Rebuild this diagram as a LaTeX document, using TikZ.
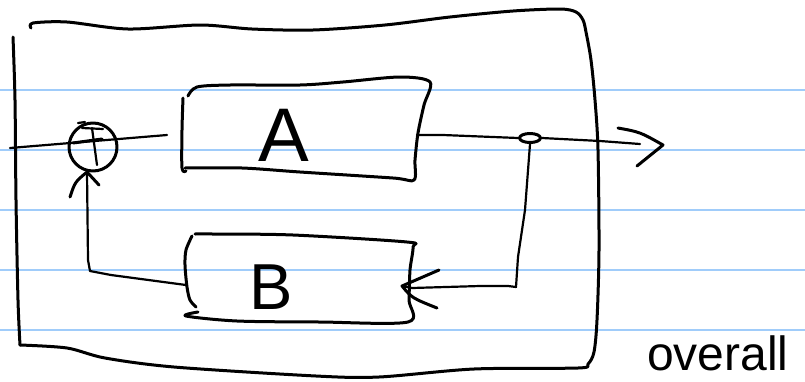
\documentclass[tikz,border=0pt]{standalone}
\usepackage{fontspec}
\setmainfont{Liberation Sans}
\usetikzlibrary{shapes.geometric}
\definecolor{ruleblue}{RGB}{160,204,250}
\begin{document}
\begin{tikzpicture}[x=1pt,y=-1pt,
  ink/.style={line width=3pt, line cap=round, line join=round},
  thinink/.style={line width=2.2pt, line cap=round, line join=round},
  rule/.style={line width=1.8pt, draw=ruleblue},
  letter/.style={inner sep=0pt, font=\fontsize{#1}{#1}\selectfont}]
\useasboundingbox (0,0) rectangle (805,381);
% ruled paper
\foreach \y in {90,150,210,270,330} \draw[rule] (0,\y) -- (805,\y);

% outer box
\draw[ink] plot[smooth, tension=0.5] coordinates {(31,28) (33,23) (67,22) (128,29) (200,25) (252,29) (313,30) (385,25) (450,17) (513,11) (560,9) (576,12) (583,20) (586,32) (591,60) (595,100) (598,150) (599,250) (597,320) (594,352) (588,364) (578,368) (474,369) (379,377) (316,376) (174,367) (105,358) (67,348) (20,345)};
\draw[ink] plot[smooth, tension=0.5] coordinates {(13,37) (15,100) (16,200) (18,300) (20,345)};

% box A
\draw[ink] plot[smooth, tension=0.5] coordinates {(188,96) (197,87) (230,85) (300,85) (343,82) (400,77) (430,82) (424,105) (418,133) (415,160) (414,180) (393,178) (300,172) (242,168) (185,168)};
\draw[ink] plot[smooth, tension=0.5] coordinates {(183,98) (182,130) (182,168) (186,171)};
\node[letter=76] (A) at (284,135) {A};

% box B
\draw[ink] plot[smooth, tension=0.5] coordinates {(195,234) (213,234) (293,235) (407,242) (413,247) (410,270) (409,300) (408,322) (320,322) (237,321) (186,316) (198,312)};
\draw[ink] plot[smooth, tension=0.5] coordinates {(192,236) (186,250) (185,265) (187,287) (190,300) (196,307)};
\node[letter=65] (B) at (271,287) {B};

% summing junction
\node[circle, draw, ink, minimum size=48pt, inner sep=0pt] (sum) at (93,147) {};
\draw[thinink] (78,123) -- (85,122);
\draw[thinink] (82,128) -- (103,129);
\draw[thinink] (92,128) -- (97,165);
\coordinate (in) at (10,148);
\coordinate (inend) at (167,135);
\draw[thinink] (in) -- (inend);
\draw[ink] (73,143) -- (102,139);

% branch point
\node[ellipse, draw, ink, minimum width=21pt, minimum height=9pt, inner sep=0pt] (br) at (530,138) {};
\coordinate (Aout) at (417,135);
\draw[thinink] (Aout) -- (443,135) -- (br.west);
\coordinate (outtip) at (663,145);
\draw[thinink] (br.east) -- (600,141) -- (640,144);
\draw[ink] (618,128) .. controls (640,132) .. (outtip) -- (637,166);

% feedback path to B
\coordinate (Bin) at (402,286);
\draw[thinink] (br.south) -- (525,210) -- (518,257) -- (516,287) -- (508,286) -- (480,286) -- (412,288) -- (Bin);
\draw[ink] (439,270) -- (Bin) .. controls (412,298) .. (437,308);

% feedback from B to summing junction
\coordinate (Bout) at (186,285);
\coordinate (sumin) at (87,172);
\draw[thinink] (Bout) -- (111,275) -- (90,271) -- (88,260) -- (sumin);
\draw[ink] (70,197) .. controls (75,182) .. (sumin) -- (99,185);

% label
\node[letter=48, anchor=base west] (overall) at (647,370) {overall};
\end{tikzpicture}
\end{document}
